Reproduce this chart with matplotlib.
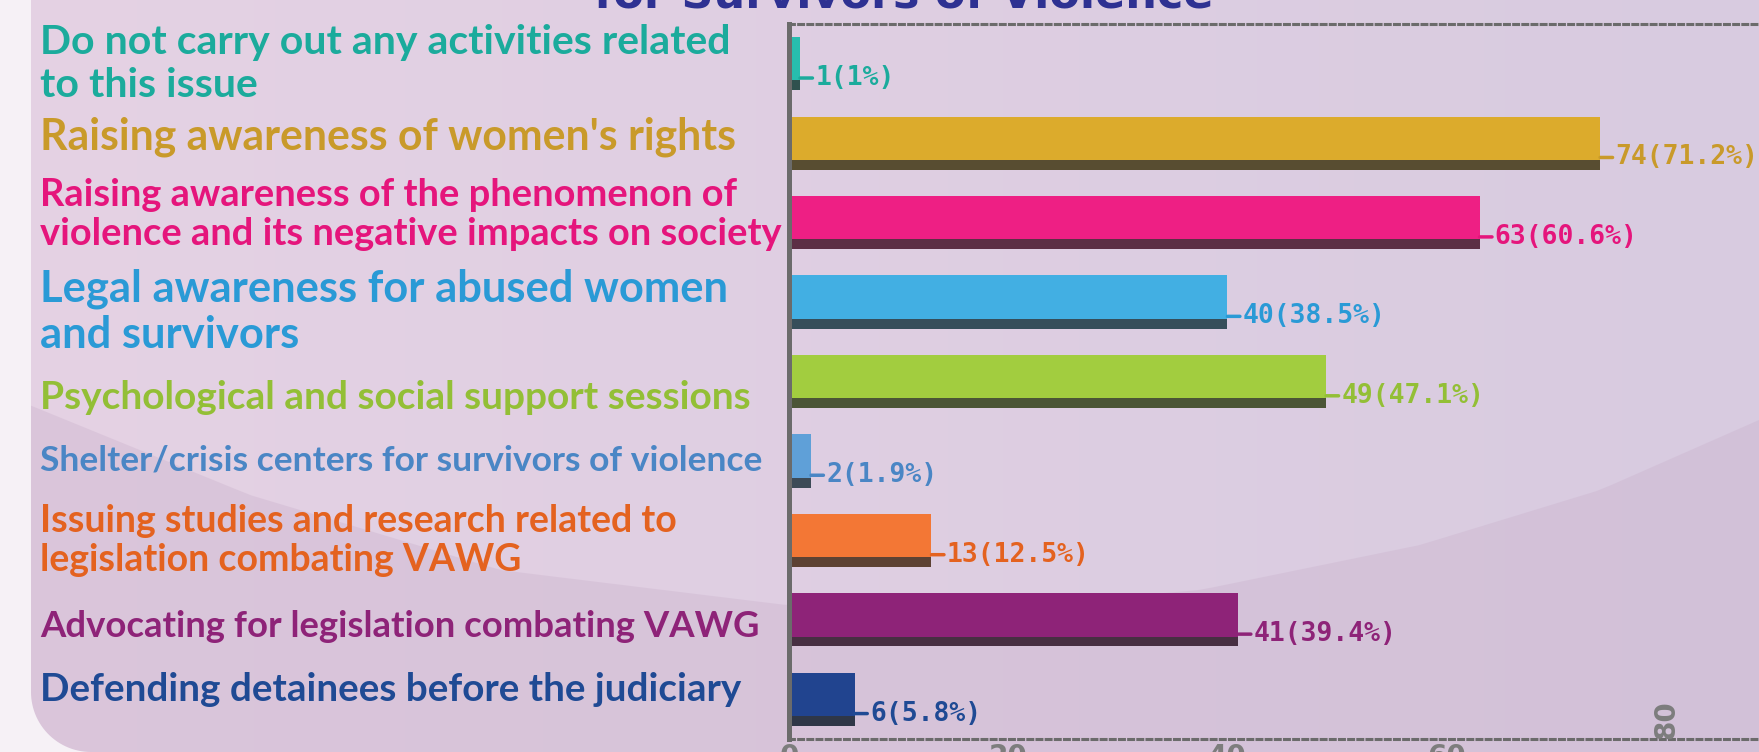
import matplotlib
matplotlib.use('Agg')
import matplotlib.pyplot as plt
import matplotlib.transforms as mtransforms
from matplotlib.patches import Rectangle, Polygon
from matplotlib.colors import to_rgb
import numpy as np

# ---------------- data ----------------
categories = [
    "Do not carry out any activities related\nto this issue",
    "Raising awareness of women's rights",
    "Raising awareness of the phenomenon of\nviolence and its negative impacts on society",
    "Legal awareness for abused women\nand survivors",
    "Psychological and social support sessions",
    "Shelter/crisis centers for survivors of violence",
    "Issuing studies and research related to\nlegislation combating VAWG",
    "Advocating for legislation combating VAWG",
    "Defending detainees before the judiciary",
]
counts = [1, 74, 63, 40, 49, 2, 13, 41, 6]
percents = [1, 71.2, 60.6, 38.5, 47.1, 1.9, 12.5, 39.4, 5.8]
bar_colors = ['#27bdae', '#dcab2c', '#ee1f84', '#42afe3', '#a2cd3f',
              '#5fa0d8', '#f37735', '#8e2378', '#21448f']
text_colors = ['#1bab9c', '#c99a2a', '#e5157c', '#2a9ad6', '#93bf36',
               '#4a86c5', '#e4621f', '#8e2378', '#1f4a94']
xticks = [0, 20, 40, 60, 80]
title = "for Survivors of Violence"

# ---------------- style (per-label typography) ----------------
label_sizes = [29.5, 30.8, 27.4, 31.3, 28, 25.5, 27, 26.3, 27.8]
label_dy = [0.0, -0.08, -0.1, 0.12, 0.2, 0.0, 0.0, 0.08, -0.12]

# ---------------- figure ----------------
W, H = 1759, 752
fig = plt.figure(figsize=(W / 100, H / 100), dpi=100)

# background
bg = fig.add_axes([0, 0, 1, 1], zorder=0)
bg.set_xlim(0, W)
bg.set_ylim(H, 0)
bg.axis('off')
c1 = np.array(to_rgb('#e5d2e4'))
c2 = np.array(to_rgb('#d8cbe0'))
t = np.linspace(0, 1, 256)[None, :, None]
grad = np.repeat(c1 * (1 - t) + c2 * t, 2, axis=0)
bg.imshow(grad, extent=[0, W, H, 0], aspect='auto', zorder=0)
# darker lower swoosh
kx = [0, 250, 500, 786, 1000, 1200, 1420, 1600, 1759]
ky = [393, 495, 570, 605, 607, 590, 545, 490, 420]
xs = np.linspace(0, W, 120)
ys = np.interp(xs, kx, ky)
bg.add_patch(Polygon(np.column_stack([np.r_[xs, W, 0], np.r_[ys, H, H]]),
                     closed=True, color='#c9b0cb', alpha=0.35, lw=0, zorder=1))
# left white strip with rounded corner
bg.add_patch(Rectangle((0, 0), 31, H, color='#f6f1f6', lw=0, zorder=2))
r = 60
cx, cy = 31 + r, H - r
th = np.linspace(np.pi, np.pi / 2, 30)
corner = np.column_stack([cx + r * np.cos(th), cy + r * np.sin(th)])
bg.add_patch(Polygon(np.vstack([[31, H], corner[::-1], [31, cy]]), closed=True,
                     color='#f6f1f6', lw=0, zorder=2))

# main axes
left = 789 / W
ax = fig.add_axes([left, 1 - 739 / H, 1 - left, (739 - 24) / H], zorder=2)
ax.patch.set_alpha(0)

y = np.arange(len(counts))
bh = 0.67
sh = 0.125
dark = np.array(to_rgb('#333333'))
shadow_colors = [tuple(np.array(to_rgb(c)) * 0.22 + dark * 0.78) for c in bar_colors]
ax.barh(y, counts, height=bh, color=shadow_colors, zorder=3)
ax.barh(y - sh / 2, counts, height=bh - sh, color=bar_colors, zorder=4)

ax.set_xlim(0, 88.5)
ax.set_ylim(len(counts) - 0.5, -0.5)

ax.spines['right'].set_visible(False)
ax.spines['left'].set_color('#6b6b6b')
ax.spines['left'].set_linewidth(3.6)
ax.spines['left'].set_zorder(5)
for s in ['top', 'bottom']:
    ax.spines[s].set_color('#6b6b6b')
    ax.spines[s].set_linewidth(2.2)
    ax.spines[s].set_linestyle((0, (1.6, 1.4)))

ax.set_yticks([])
ax.set_xticks(xticks)
ax.set_xticklabels([str(v) if v != xticks[-1] else '' for v in xticks],
                   fontsize=20, fontweight='bold', color='#7d7d7d')
ax.tick_params(axis='x', length=0, pad=3)
ax.text(xticks[-1], len(counts) - 0.5, str(xticks[-1]), rotation=90, ha='center',
        va='bottom', fontsize=20, fontweight='bold', color='#7d7d7d')

# value labels with connector
for i, (v, p) in enumerate(zip(counts, percents)):
    ax.annotate(f"{v}({p:g}%)", xy=(v, i + 0.18), xytext=(11, 0),
                textcoords='offset points', ha='left', va='center',
                fontsize=19, fontweight='bold', family='DejaVu Sans Mono',
                color=text_colors[i], zorder=6,
                arrowprops=dict(arrowstyle='-', color=text_colors[i], lw=2.5,
                                shrinkA=0, shrinkB=0, relpos=(0, 0.5)))

# category labels
trans = mtransforms.blended_transform_factory(fig.transFigure, ax.transData)
for i, lab in enumerate(categories):
    fig.text(40 / W, i + label_dy[i], lab, transform=trans, ha='left', va='center',
             fontsize=label_sizes[i], fontweight='bold', family='Lato',
             color=text_colors[i], linespacing=1.2, zorder=6)

# title (cut by the top edge)
fig.text(904 / W, 1 - 8 / H, title, ha='center', va='baseline', fontsize=32,
         fontweight='bold', color='#2e3192', zorder=6)

fig.savefig('out.png', dpi=100)
